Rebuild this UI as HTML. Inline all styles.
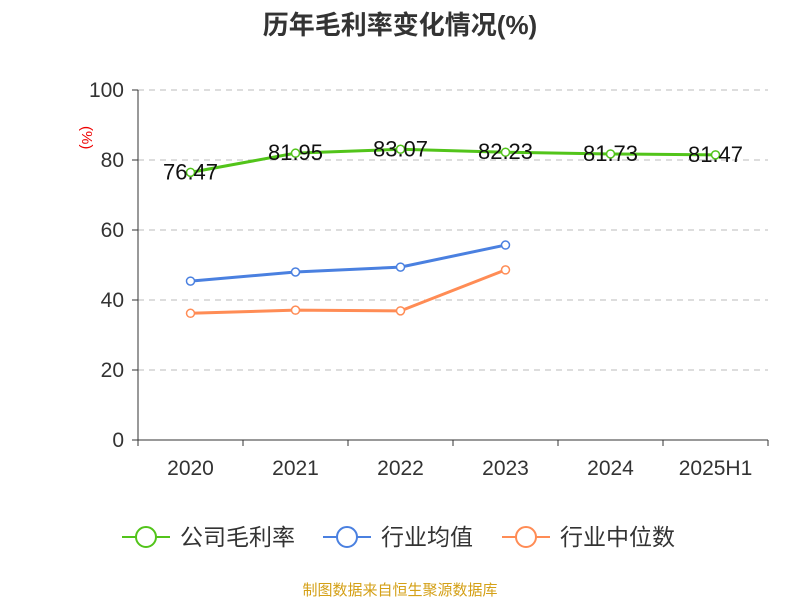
<!DOCTYPE html>
<html><head><meta charset="utf-8"><style>
body{margin:0;background:#fff;}
svg{display:block;font-family:"Liberation Sans","Noto Sans CJK SC",sans-serif;}
</style></head><body>
<svg id="c" width="800" height="600">
<text x="400" y="34" text-anchor="middle" font-size="26" font-weight="bold" fill="#333">历年毛利率变化情况(%)</text>
<text x="82" y="126" font-size="15" fill="#e00" transform="rotate(90 82 126)">(%)</text>
<g id="grid"></g><g id="series"></g>
<g>
<g><line x1="122" y1="537" x2="170" y2="537" stroke="#52c41a" stroke-width="2"/><circle cx="146" cy="537" r="10" fill="#fff" stroke="#52c41a" stroke-width="2"/><text x="180" y="545" font-size="23" fill="#333">公司毛利率</text></g>
<g><line x1="323" y1="537" x2="371" y2="537" stroke="#4a80e0" stroke-width="2"/><circle cx="347" cy="537" r="10" fill="#fff" stroke="#4a80e0" stroke-width="2"/><text x="381" y="545" font-size="23" fill="#333">行业均值</text></g>
<g><line x1="502" y1="537" x2="550" y2="537" stroke="#ff8c55" stroke-width="2"/><circle cx="526" cy="537" r="10" fill="#fff" stroke="#ff8c55" stroke-width="2"/><text x="560" y="545" font-size="23" fill="#333">行业中位数</text></g>
</g>
<text x="400" y="595" text-anchor="middle" font-size="15" fill="#d4a017">制图数据来自恒生聚源数据库</text>
</svg>
<script>
const categories=["2020","2021","2022","2023","2024","2025H1"];
const grossMargin=[76.47,81.95,83.07,82.23,81.73,81.47];
const industryAvg=[45.4,48.0,49.4,55.7];
const industryMedian=[36.2,37.1,36.9,48.6];
const yTicks=[0,20,40,60,80,100];
const NS="http://www.w3.org/2000/svg";
const x0=138,x1=768,y0=440,y1=90;
const bw=(x1-x0)/categories.length;
const xs=i=>x0+bw*(i+0.5);
const ys=v=>y0-(v/100)*(y0-y1);
function mk(t,a,p){const e=document.createElementNS(NS,t);for(const k in a)e.setAttribute(k,a[k]);p.appendChild(e);return e;}
const g=document.getElementById("grid"),s=document.getElementById("series");
yTicks.forEach(v=>{
 if(v>0){const l=mk("line",{x1:x0,x2:x1,y1:ys(v),y2:ys(v),stroke:"#bbb","stroke-dasharray":"6,5"},g);
 
 }
 const t=mk("text",{x:x0-14,y:ys(v)+7,"text-anchor":"end","font-size":"21",fill:"#333"},g);t.textContent=v;
 
 
 mk("line",{x1:x0-6,x2:x0,y1:ys(v),y2:ys(v),stroke:"#333"},g);
});
const ya=mk("line",{x1:x0,x2:x0,y1:y1,y2:y0,stroke:"#333"},g);


const xa=mk("line",{x1:x0,x2:x1,y1:y0,y2:y0,stroke:"#333"},g);


for(let i=0;i<=categories.length;i++)mk("line",{x1:x0+bw*i,x2:x0+bw*i,y1:y0,y2:y0+6,stroke:"#333"},g);
categories.forEach((c,i)=>{const t=mk("text",{x:xs(i),y:y0+35,"text-anchor":"middle","font-size":"21",fill:"#333"},g);t.textContent=c;
 
 });
function series(data,color,name,labels){
 const p=mk("polyline",{points:data.map((v,i)=>xs(i)+","+ys(v)).join(" "),fill:"none",stroke:color,"stroke-width":"3"},s);
 
 
 data.forEach((v,i)=>{const c=mk("circle",{cx:xs(i),cy:ys(v),r:4,fill:"#fff",stroke:color,"stroke-width":"1.5"},s);
  
  
  if(labels){const t=mk("text",{x:xs(i),y:ys(v)+7,"text-anchor":"middle","font-size":"22",fill:"#111"},s);t.textContent=v.toFixed(2);
   
   }});
}
series(grossMargin,"#52c41a","gross-margin",true);
series(industryAvg,"#4a80e0","industry-average",false);
series(industryMedian,"#ff8c55","industry-median",false);
</script>
</body></html>
